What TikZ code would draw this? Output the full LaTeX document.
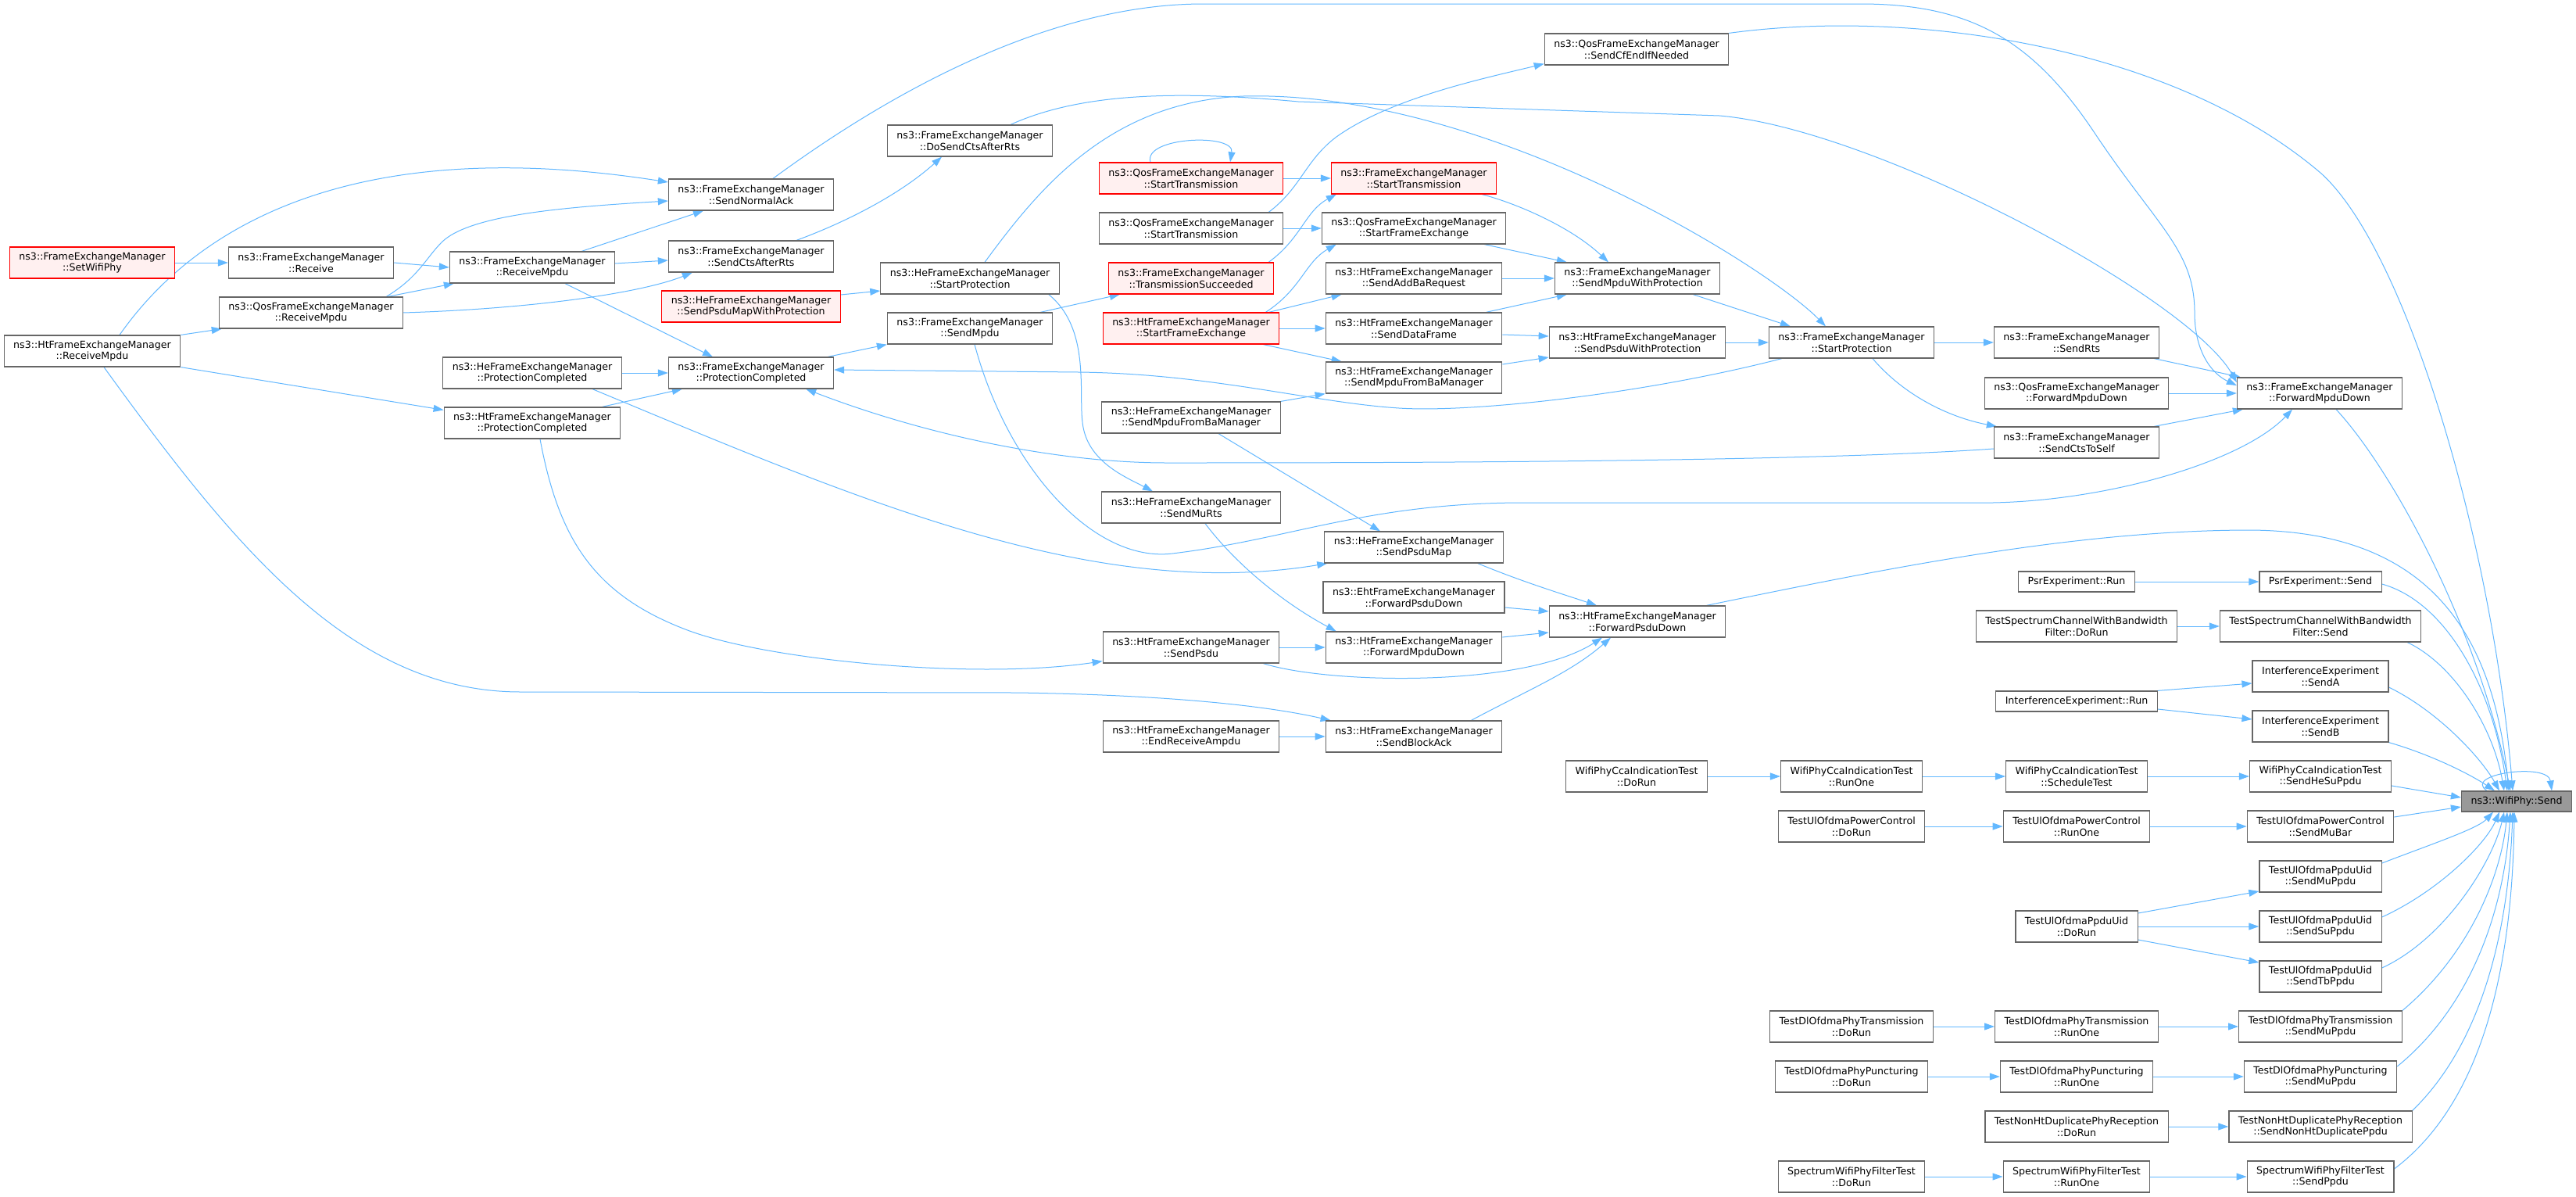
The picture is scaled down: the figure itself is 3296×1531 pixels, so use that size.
\documentclass[tikz,border=0pt]{standalone}
\usepackage{fontspec}
\setmainfont{DejaVu Sans}
\usetikzlibrary{arrows.meta}
\definecolor{edgec}{HTML}{63B8FF}
\definecolor{boxc}{HTML}{666666}
\definecolor{truncfill}{HTML}{FFF0F0}
\definecolor{rootfill}{HTML}{999999}
\newcommand\nodefont{\fontsize{12.6}{14.7}\selectfont}
\pgfdeclarelayer{paper}
\pgfdeclarelayer{bg}
\pgfsetlayers{paper,bg,main}
\begin{document}
\begin{tikzpicture}[x=1pt,y=-1pt,
 fn/.style={draw=boxc, fill=white, line width=1.2pt, align=center, inner xsep=12pt, inner ysep=2pt, minimum height=40pt, font=\nodefont},
 fnone/.style={fn, minimum height=26pt},
 trunc/.style={draw=red, fill=truncfill},
 root/.style={fill=rootfill},
 e/.style={draw=edgec, line width=1pt, -{Triangle[length=13pt,width=9pt]}}]
\begin{pgfonlayer}{paper}
\fill[white] (0,0) rectangle (3296,1531);
\end{pgfonlayer}
\useasboundingbox (0,0) rectangle (3296,1531);
% column 0
\node[fn,trunc] (setwifi) at (118,336) {ns3::FrameExchangeManager\\::SetWifiPhy};
\node[fn] (htrm) at (118,449) {ns3::HtFrameExchangeManager\\::ReceiveMpdu};
% column 1
\node[fn] (recv) at (398,336) {ns3::FrameExchangeManager\\::Receive};
\node[fn] (qosrm) at (398,400) {ns3::QosFrameExchangeManager\\::ReceiveMpdu};
% column 2
\node[fn] (femrm) at (681,342) {ns3::FrameExchangeManager\\::ReceiveMpdu};
\node[fn] (hepc) at (681,477) {ns3::HeFrameExchangeManager\\::ProtectionCompleted};
\node[fn] (htpc) at (681,541) {ns3::HtFrameExchangeManager\\::ProtectionCompleted};
% column 3
\node[fn] (normack) at (961,249) {ns3::FrameExchangeManager\\::SendNormalAck};
\node[fn] (ctsrts) at (961,328) {ns3::FrameExchangeManager\\::SendCtsAfterRts};
\node[fn,trunc] (psdumapwp) at (961,392) {ns3::HeFrameExchangeManager\\::SendPsduMapWithProtection};
\node[fn] (fempc) at (961,477) {ns3::FrameExchangeManager\\::ProtectionCompleted};
% column 4
\node[fn] (dosendcts) at (1241,180) {ns3::FrameExchangeManager\\::DoSendCtsAfterRts};
\node[fn] (hesp) at (1241,356) {ns3::HeFrameExchangeManager\\::StartProtection};
\node[fn] (sendmpdu) at (1241,420) {ns3::FrameExchangeManager\\::SendMpdu};
% column 5
\node[fn,trunc] (qosstR) at (1524,228) {ns3::QosFrameExchangeManager\\::StartTransmission};
\node[fn] (qosst) at (1524,292) {ns3::QosFrameExchangeManager\\::StartTransmission};
\node[fn,trunc] (txsucc) at (1524,356) {ns3::FrameExchangeManager\\::TransmissionSucceeded};
\node[fn,trunc] (htsfe) at (1524,420) {ns3::HtFrameExchangeManager\\::StartFrameExchange};
\node[fn] (hempdufromba) at (1524,534) {ns3::HeFrameExchangeManager\\::SendMpduFromBaManager};
\node[fn] (murts) at (1524,649) {ns3::HeFrameExchangeManager\\::SendMuRts};
\node[fn] (htsendpsdu) at (1524,828) {ns3::HtFrameExchangeManager\\::SendPsdu};
\node[fn] (endampdu) at (1524,942) {ns3::HtFrameExchangeManager\\::EndReceiveAmpdu};
% column 6
\node[fn,trunc] (femst) at (1809,228) {ns3::FrameExchangeManager\\::StartTransmission};
\node[fn] (qossfe) at (1809,292) {ns3::QosFrameExchangeManager\\::StartFrameExchange};
\node[fn] (addba) at (1809,356) {ns3::HtFrameExchangeManager\\::SendAddBaRequest};
\node[fn] (dataframe) at (1809,420) {ns3::HtFrameExchangeManager\\::SendDataFrame};
\node[fn] (htmpdufromba) at (1809,483) {ns3::HtFrameExchangeManager\\::SendMpduFromBaManager};
\node[fn] (psdumap) at (1809,700) {ns3::HeFrameExchangeManager\\::SendPsduMap};
\node[fn] (ehtfpd) at (1809,764) {ns3::EhtFrameExchangeManager\\::ForwardPsduDown};
\node[fn] (htfmd) at (1809,828) {ns3::HtFrameExchangeManager\\::ForwardMpduDown};
\node[fn] (blockack) at (1809,942) {ns3::HtFrameExchangeManager\\::SendBlockAck};
% column 7
\node[fn] (cfend) at (2094,63) {ns3::QosFrameExchangeManager\\::SendCfEndIfNeeded};
\node[fn] (smwp) at (2095,356) {ns3::FrameExchangeManager\\::SendMpduWithProtection};
\node[fn] (spwp) at (2095,438) {ns3::HtFrameExchangeManager\\::SendPsduWithProtection};
\node[fn] (htfpd) at (2095,795) {ns3::HtFrameExchangeManager\\::ForwardPsduDown};
\node[fn] (ccadorun) at (2094,993) {WifiPhyCcaIndicationTest\\::DoRun};
% column 8
\node[fn] (startprot) at (2369,438) {ns3::FrameExchangeManager\\::StartProtection};
\node[fn] (ccarunone) at (2369,993) {WifiPhyCcaIndicationTest\\::RunOne};
\node[fn] (ulpcdorun) at (2369,1057) {TestUlOfdmaPowerControl\\::DoRun};
\node[fn] (dltdorun) at (2369,1313) {TestDlOfdmaPhyTransmission\\::DoRun};
\node[fn] (dlpdorun) at (2369,1377) {TestDlOfdmaPhyPuncturing\\::DoRun};
\node[fn] (swfdorun) at (2369,1505) {SpectrumWifiPhyFilterTest\\::DoRun};
% column 9
\node[fn] (sendrts) at (2657,438) {ns3::FrameExchangeManager\\::SendRts};
\node[fn] (qosfmd) at (2657,503) {ns3::QosFrameExchangeManager\\::ForwardMpduDown};
\node[fn] (ctstoself) at (2657,566) {ns3::FrameExchangeManager\\::SendCtsToSelf};
\node[fnone] (psrrun) at (2657,744) {PsrExperiment::Run};
\node[fn] (tscdorun) at (2657,801) {TestSpectrumChannelWithBandwidth\\Filter::DoRun};
\node[fnone] (ierun) at (2657,897) {InterferenceExperiment::Run};
\node[fn] (ccasched) at (2657,993) {WifiPhyCcaIndicationTest\\::ScheduleTest};
\node[fn] (ulpcrunone) at (2657,1057) {TestUlOfdmaPowerControl\\::RunOne};
\node[fn] (uluiddorun) at (2657,1185) {TestUlOfdmaPpduUid\\::DoRun};
\node[fn] (dltrunone) at (2657,1313) {TestDlOfdmaPhyTransmission\\::RunOne};
\node[fn] (dlprunone) at (2657,1377) {TestDlOfdmaPhyPuncturing\\::RunOne};
\node[fn] (nonhtdorun) at (2657,1441) {TestNonHtDuplicatePhyReception\\::DoRun};
\node[fn] (swfrunone) at (2657,1505) {SpectrumWifiPhyFilterTest\\::RunOne};
% column 10
\node[fn] (femfmd) at (2968,503) {ns3::FrameExchangeManager\\::ForwardMpduDown};
\node[fnone] (psrsend) at (2969,744) {PsrExperiment::Send};
\node[fn] (tscsend) at (2969,801) {TestSpectrumChannelWithBandwidth\\Filter::Send};
\node[fn] (iesenda) at (2969,865) {InterferenceExperiment\\::SendA};
\node[fn] (iesendb) at (2969,929) {InterferenceExperiment\\::SendB};
\node[fn] (ccasendhesu) at (2969,993) {WifiPhyCcaIndicationTest\\::SendHeSuPpdu};
\node[fn] (ulpcsendmubar) at (2969,1057) {TestUlOfdmaPowerControl\\::SendMuBar};
\node[fn] (uluidmu) at (2969,1121) {TestUlOfdmaPpduUid\\::SendMuPpdu};
\node[fn] (uluidsu) at (2969,1185) {TestUlOfdmaPpduUid\\::SendSuPpdu};
\node[fn] (uluidtb) at (2969,1249) {TestUlOfdmaPpduUid\\::SendTbPpdu};
\node[fn] (dltsendmu) at (2969,1313) {TestDlOfdmaPhyTransmission\\::SendMuPpdu};
\node[fn] (dlpsendmu) at (2969,1377) {TestDlOfdmaPhyPuncturing\\::SendMuPpdu};
\node[fn] (nonhtsend) at (2969,1441) {TestNonHtDuplicatePhyReception\\::SendNonHtDuplicatePpdu};
\node[fn] (swfsendppdu) at (2969,1505) {SpectrumWifiPhyFilterTest\\::SendPpdu};
% root
\node[fnone,root] (ws) at (3220,1025) {ns3::WifiPhy::Send};

\begin{pgfonlayer}{bg}
% left part
\draw[e] (setwifi.east) -- (recv.west);
\draw[e] (recv.east) -- (femrm.west);
\draw[e] ([xshift=-20]qosrm.north east) -- ([xshift=6]femrm.south west);
\draw[e] (htrm.north east) -- ([xshift=4]qosrm.south west);
\draw[e] ([xshift=35]htrm.north) .. controls (250,290) and (450,170) .. ([yshift=16]normack.west);
\draw[e] ([xshift=-22]qosrm.north east) .. controls (535,355) and (545,330) .. (565,310) .. controls (600,275) and (720,265) .. ([yshift=-8]normack.west);
\draw[e] ([xshift=-43]femrm.north east) -- ([xshift=-61]normack.south);
\draw[e] ([yshift=5]femrm.east) -- ([yshift=-5]ctsrts.west);
\draw[e] (qosrm.east) .. controls (680,395) and (820,375) .. ([xshift=31]ctsrts.south west);
\draw[e] ([xshift=42]femrm.south) -- ([xshift=-49]fempc.north);
\draw[e] (hepc.east) -- (fempc.west);
\draw[e] ([xshift=-24]htpc.north east) -- ([xshift=18]fempc.south west);
\draw[e] (htrm.south east) -- ([yshift=-4]htpc.north west);
\draw[e] ([xshift=15]htrm.south) .. controls (300,700) and (450,885) .. (666,885) -- (1300,886) .. controls (1450,888) and (1600,898) .. ([xshift=7]blockack.north west);
\draw[e] ([xshift=77]hepc.south) .. controls (1100,640) and (1400,770) .. ([xshift=4]psdumap.south west);
\draw[e] ([xshift=10]htpc.south) .. controls (715,690) and (760,760) .. (877,805) .. controls (980,845) and (1250,870) .. ([yshift=3]htsendpsdu.south west);
\draw[e] ([xshift=17]startprot.south west) .. controls (2100,505) and (1880,528) .. (1790,522) .. controls (1680,515) and (1550,478) .. (1380,476) -- ([yshift=4]fempc.east);
\draw[e] ([yshift=-8]ctstoself.west) .. controls (2300,592) and (1700,592) .. (1493,592) .. controls (1350,592) and (1180,555) .. ([xshift=-36]fempc.south east);
\draw[e] ([xshift=-8]fempc.north east) -- (sendmpdu.south west);
\draw[e] ([xshift=-16]sendmpdu.north east) -- ([xshift=15]txsucc.south west);
\draw[e] ([yshift=15]psdumapwp.east) -- ([yshift=-16]hesp.west);
\draw[e] ([xshift=58]ctsrts.north) .. controls (1080,285) and (1150,250) .. ([xshift=-36]dosendcts.south);
% long upper curves
\draw[e] ([xshift=19]hesp.north) .. controls (1330,240) and (1420,130) .. (1591,123) .. controls (1900,115) and (2260,340) .. ([xshift=-33]startprot.north);
\draw[e] ([xshift=52]dosendcts.north) .. controls (1380,120) and (1500,115) .. (1661,130) -- (2200,148) .. controls (2400,165) and (2800,380) .. ([yshift=14]femfmd.west);
\draw[e] ([xshift=28]normack.north) .. controls (1150,110) and (1350,5) .. (1540,5) -- (2380,5) .. controls (2520,5) and (2600,50) .. (2680,170) .. controls (2760,290) and (2808,320) .. (2808,400) .. controls (2808,450) and (2830,478) .. ([yshift=10]femfmd.west);
\draw[e] (cfend.north east) .. controls (2450,10) and (2780,60) .. (2969,221) .. controls (3080,320) and (3190,700) .. ([xshift=-5]ws.north);
\draw[e] ([xshift=-19]qosst.north east) .. controls (1665,240) and (1670,205) .. (1710,175) .. controls (1780,125) and (1900,100) .. ([yshift=2]cfend.south west);
% middle
\draw[e] ([xshift=-52]qosstR.north) .. controls (1462,175) and (1580,170) .. ([xshift=50]qosstR.north);
\draw[e] (qosstR.east) -- (femst.west);
\draw[e] (qosst.east) -- (qossfe.west);
\draw[e] ([xshift=-7]txsucc.north east) .. controls (1665,305) and (1670,270) .. ([xshift=7]femst.south west);
\draw[e] ([xshift=-18]htsfe.north east) .. controls (1665,370) and (1670,335) .. ([xshift=19]qossfe.south west);
\draw[e] ([xshift=-14]htsfe.north east) -- ([xshift=21]addba.south west);
\draw[e] (htsfe.east) -- (dataframe.west);
\draw[e] ([xshift=-21]htsfe.south east) -- ([xshift=21]htmpdufromba.north west);
\draw[e] ([xshift=-19]femst.south east) .. controls (1940,260) and (2010,290) .. ([xshift=-37]smwp.north);
\draw[e] ([xshift=-28]qossfe.south east) -- ([xshift=16]smwp.north west);
\draw[e] (addba.east) -- (smwp.west);
\draw[e] ([xshift=-21]dataframe.north east) -- ([xshift=16]smwp.south west);
\draw[e] ([yshift=-8]dataframe.east) -- ([yshift=8]spwp.west);
\draw[e] ([yshift=17]htmpdufromba.east) -- ([yshift=-19]spwp.west);
\draw[e] (hempdufromba.north east) -- (htmpdufromba.south west);
\draw[e] ([xshift=-35]smwp.south east) -- ([xshift=28]startprot.north west);
\draw[e] (spwp.east) -- (startprot.west);
\draw[e] (startprot.east) -- (sendrts.west);
\draw[e] ([xshift=27]startprot.south) .. controls (2440,510) and (2500,535) .. ([xshift=4]ctstoself.north west);
\draw[e] ([xshift=-7]sendrts.south east) -- ([xshift=5]femfmd.north west);
\draw[e] (qosfmd.east) -- (femfmd.west);
\draw[e] ([xshift=-7]ctstoself.north east) -- ([xshift=8]femfmd.south west);
\draw[e] ([xshift=6]sendmpdu.south) .. controls (1290,600) and (1400,720) .. (1500,708) .. controls (1650,690) and (1750,643) .. (1950,643) -- (2550,643) .. controls (2700,640) and (2870,590) .. ([xshift=-35]femfmd.south);
\draw[e] ([xshift=-14]hesp.south east) .. controls (1395,420) and (1380,500) .. (1385,540) .. controls (1390,590) and (1440,610) .. ([xshift=-49]murts.north);
\draw[e] ([xshift=35]hempdufromba.south) -- ([xshift=-43]psdumap.north);
\draw[e] ([xshift=18]murts.south) .. controls (1580,720) and (1640,770) .. ([xshift=14]htfmd.north west);
\draw[e] ([xshift=-33]psdumap.south east) .. controls (1950,745) and (2000,760) .. ([xshift=-52]htfpd.north);
\draw[e] ([yshift=-13]ehtfpd.east) -- ([yshift=13]htfpd.west);
\draw[e] ([yshift=13]htfmd.east) -- ([yshift=-14]htfpd.west);
\draw[e] (htsendpsdu.east) -- (htfmd.west);
\draw[e] ([xshift=-21]htsendpsdu.south east) .. controls (1700,875) and (1950,880) .. ([xshift=-45]htfpd.south);
\draw[e] ([xshift=-40]blockack.north east) .. controls (1960,880) and (2010,860) .. ([xshift=-34]htfpd.south);
\draw[e] (endampdu.east) -- (blockack.west);
% into WifiPhy::Send from above
\draw[e] ([xshift=-25]htfpd.north east) .. controls (2400,730) and (2650,678) .. (2880,678) .. controls (3100,680) and (3190,800) .. ([xshift=-10]ws.north);
\draw[e] ([xshift=21]femfmd.south) .. controls (3060,600) and (3170,800) .. ([xshift=-8]ws.north);
\draw[e] (psrrun.east) -- (psrsend.west);
\draw[e] ([yshift=-3]psrsend.east) .. controls (3130,770) and (3190,880) .. ([xshift=-12]ws.north);
\draw[e] (tscdorun.east) -- (tscsend.west);
\draw[e] ([xshift=-18]tscsend.south east) .. controls (3140,850) and (3190,930) .. ([xshift=-16]ws.north);
\draw[e] (ierun.north east) -- ([yshift=-9]iesenda.west);
\draw[e] ([yshift=-10]ierun.east) -- ([yshift=9]iesendb.west);
\draw[e] ([yshift=-14]iesenda.east) .. controls (3120,910) and (3175,970) .. ([xshift=-22]ws.north);
\draw[e] (iesendb.south east) .. controls (3110,965) and (3160,990) .. ([xshift=-28]ws.north);
\draw[e] (ccadorun.east) -- (ccarunone.west);
\draw[e] (ccarunone.east) -- (ccasched.west);
\draw[e] (ccasched.east) -- (ccasendhesu.west);
\draw[e] ([yshift=-12]ccasendhesu.east) -- ([yshift=5]ws.west);
% into WifiPhy::Send from below
\draw[e] (ulpcdorun.east) -- (ulpcrunone.west);
\draw[e] (ulpcrunone.east) -- (ulpcsendmubar.west);
\draw[e] ([yshift=12]ulpcsendmubar.east) -- ([yshift=-7]ws.west);
\draw[e] ([yshift=17]uluiddorun.east) -- ([yshift=-19]uluidmu.west);
\draw[e] (uluiddorun.east) -- (uluidsu.west);
\draw[e] ([yshift=-17]uluiddorun.east) -- ([yshift=18]uluidtb.west);
\draw[e] ([yshift=17]uluidmu.east) .. controls (3110,1080) and (3170,1060) .. ([xshift=-30]ws.south);
\draw[e] ([yshift=12]uluidsu.east) .. controls (3120,1140) and (3180,1080) .. ([xshift=-22]ws.south);
\draw[e] ([yshift=11]uluidtb.east) .. controls (3130,1200) and (3190,1100) .. ([xshift=-16]ws.south);
\draw[e] (dltdorun.east) -- (dltrunone.west);
\draw[e] (dltrunone.east) -- (dltsendmu.west);
\draw[e] (dltsendmu.north east) .. controls (3160,1220) and (3200,1120) .. ([xshift=-12]ws.south);
\draw[e] (dlpdorun.east) -- (dlprunone.west);
\draw[e] (dlprunone.east) -- (dlpsendmu.west);
\draw[e] ([yshift=13]dlpsendmu.east) .. controls (3170,1280) and (3205,1150) .. ([xshift=-8]ws.south);
\draw[e] (nonhtdorun.east) -- (nonhtsend.west);
\draw[e] (nonhtsend.north east) .. controls (3180,1330) and (3210,1180) .. ([xshift=-5]ws.south);
\draw[e] (swfdorun.east) -- (swfrunone.west);
\draw[e] (swfrunone.east) -- (swfsendppdu.west);
\draw[e] ([yshift=10]swfsendppdu.east) .. controls (3190,1400) and (3215,1200) .. ([xshift=-3]ws.south);
\draw[e] ([xshift=-38]ws.north) .. controls (3150,990) and (3260,975) .. ([xshift=45]ws.north);
\end{pgfonlayer}
\end{tikzpicture}
\end{document}
